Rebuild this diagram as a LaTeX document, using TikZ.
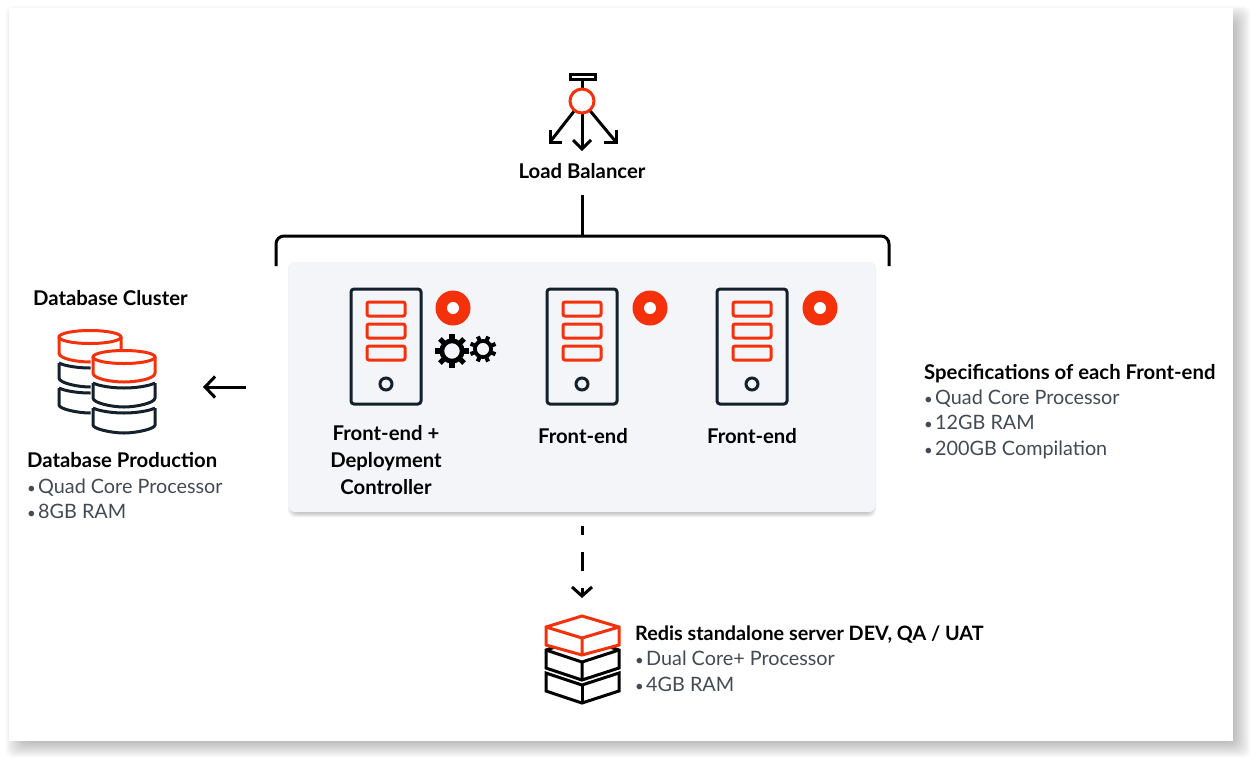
\documentclass[tikz,border=0pt]{standalone}
\usepackage{fontspec}
\setmainfont{Lato}
\usetikzlibrary{arrows.meta,positioning,calc}
\definecolor{ink}{HTML}{14202B}
\definecolor{brand}{HTML}{F5310B}
\definecolor{greytext}{HTML}{434A54}
\definecolor{panelbg}{HTML}{F3F5F9}
\tikzset{
  server/.pic={
    \draw[ink,line width=3pt,rounded corners=3pt] (-35,-57) rectangle (35,58);
    \foreach \y in {-44,-22,0}{
      \draw[brand,line width=3pt,rounded corners=2pt] (-19,\y) rectangle (19,\y+14);
    }
    \draw[ink,line width=3pt] (0,38) circle (6);
  },
  reddot/.pic={
    \fill[brand] (0,0) circle (17.5);
    \fill[white] (0,0) circle (6);
  },
  pics/gear/.style={code={
    \draw[black,line width=0.28*#1pt] (0,0) circle (0.6*#1);
    \foreach \a in {0,45,...,315}{
      \draw[black,line width=0.3*#1pt] (\a:0.7*#1) -- (\a:#1);
    }
  }},
  dbstack/.pic={
    % white halo over whatever stands behind
    \draw[white,line width=5pt,fill=white] (-31,0) -- (-31,68)
      .. controls (-31,72) and (-12,76) .. (0,76) .. controls (12,76) and (31,72) .. (31,68) -- (31,0) -- cycle;
    % black drums
    \draw[ink,line width=3pt] (-31,26) -- (-31,41)
      .. controls (-31,46) and (-12,50) .. (0,50) .. controls (12,50) and (31,46) .. (31,41) -- (31,26);
    \draw[ink,line width=3pt] (-31,26) .. controls (-25,29) and (-12,31) .. (0,31)
      .. controls (12,31) and (25,29) .. (31,26);
    \draw[ink,line width=3pt] (-31,51) -- (-31,68)
      .. controls (-31,72) and (-12,76) .. (0,76) .. controls (12,76) and (31,72) .. (31,68) -- (31,51);
    \draw[ink,line width=3pt] (-31,51) .. controls (-25,54) and (-12,56) .. (0,56)
      .. controls (12,56) and (25,54) .. (31,51);
    % red drum
    \draw[brand,line width=3pt,fill=white] (-31,0) -- (-31,16)
      .. controls (-31,22) and (-12,25) .. (0,25) .. controls (12,25) and (31,22) .. (31,16) -- (31,0);
    \draw[brand,line width=3pt,fill=white] (0,0) circle [x radius=31,y radius=6.5];
  },
  /tikz/boldlabel/.style={font=\fontsize{20.3}{27}\selectfont\bfseries,text=black,inner sep=0pt},
  /tikz/listitem/.style={font=\fontsize{19.8}{27}\selectfont,text=greytext,inner sep=0pt,anchor=base west}
}
\newcommand{\itembullet}{\makebox[11pt][l]{\fontsize{15}{15}\selectfont\textbullet}}
\begin{document}
\begin{tikzpicture}[x=1pt,y=-1pt,
  panel/.style={fill=panelbg,rounded corners=6pt,minimum width=586pt,minimum height=250pt,inner sep=0pt},
  wire/.style={black,line width=3pt},
  barb/.style={wire,-{Straight Barb[length=9pt,width=20pt,line width=3pt]}},
  box/.style={black,line width=3pt,line join=miter},
  redbox/.style={brand,line width=3pt,line join=miter,fill=white}
]
  \useasboundingbox (0,0) rectangle (1256,764);

  % Card with soft shadow
  \foreach \s in {0,...,9}{
    \fill[black,opacity=0.032,rounded corners=8pt]
      (24-2*\s,24-2*\s) rectangle (1233+1.9*\s,741+1.8*\s);
  }
  \fill[white] (9,8) rectangle (1233,741);

  % Panel behind the front-ends
  \foreach \s in {0,...,4}{
    \fill[black,opacity=0.05,rounded corners=7pt]
      (292-\s,266-\s) rectangle (872+\s,513+\s);
  }
  \node[panel] (panel) at (582,387) {};

  % Load balancer icon
  \draw[box,fill=white] (570,74.5) rectangle (595,79);
  \coordinate (lbtop) at (582,79);
  \coordinate (lbhub) at (582,101);
  \coordinate (lbleft) at (550,142);
  \coordinate (lbdown) at (582,149);
  \coordinate (lbright) at (616,142);
  \draw[wire] (lbtop) -- (lbhub);
  \draw[wire] (lbhub) -- (lbdown);
  \draw[wire] (lbhub) -- (lbleft);
  \draw[wire] (lbhub) -- (lbright);
  \draw[wire] (573,140) -- (lbdown) -- (591,140);
  \draw[wire] (550,130) -- (lbleft) -- (562,142);
  \draw[wire] (616,130) -- (lbright) -- (604,142);
  \node[draw=brand,fill=white,line width=3pt,circle,minimum size=24pt,inner sep=0pt] (lbcircle) at (lbhub) {};
  \node[boldlabel,anchor=base] (lbtext) at (582,178) {Load Balancer};

  % Bracket over the panel
  \coordinate (stemtop) at (582,195);
  \coordinate (stembot) at (582,236);
  \coordinate (brleft) at (276,266);
  \coordinate (brright) at (889,266);
  \draw[wire] (stemtop) -- (stembot);
  \draw[wire,rounded corners=8pt] (brleft) |- (stembot) -| (brright);

  % Front-ends
  \pic (srvA) at (386,346) {server};
  \pic (srvB) at (582,346) {server};
  \pic (srvC) at (752,346) {server};
  \pic (dotA) at (453,308) {reddot};
  \pic (dotB) at (650,308) {reddot};
  \pic (dotC) at (820,308) {reddot};
  \pic (gearA) at (452,351) {gear={17}};
  \pic[rotate=22] (gearB) at (483,349) {gear={13.5}};
  \node[boldlabel,align=center,anchor=base] (ctrl) at (386,494) {Front-end +\\Deployment\\Controller};
  \node[boldlabel,anchor=base] (feB) at (583,443) {Front-end};
  \node[boldlabel,anchor=base] (feC) at (752,443) {Front-end};

  % Spec list on the right
  \node[boldlabel,anchor=base west] (spec) at (924,379) {Specifications of each Front-end};
  \node[listitem] (specA) at (924,404) {\itembullet Quad Core Processor};
  \node[listitem] (specB) at (924,429) {\itembullet 12GB RAM};
  \node[listitem] (specC) at (924,455) {\itembullet 200GB Compilation};

  % Database side
  \node[boldlabel,anchor=base west] (dbtitle) at (33,305) {Database Cluster};
  \pic (dbback) at (90,337) {dbstack};
  \pic (dbfront) at (124,357) {dbstack};
  \coordinate (dbfrom) at (246,387);
  \coordinate (dbto) at (203,387);
  \draw[wire,-{Straight Barb[length=10pt,width=21pt,line width=3pt]}] (dbfrom) -- (dbto);
  \node[boldlabel,anchor=base west] (dbprod) at (27,467) {Database Production};
  \node[listitem] (dbA) at (27,493) {\itembullet Quad Core Processor};
  \node[listitem] (dbB) at (27,518) {\itembullet 8GB RAM};

  % Dashed link down to redis
  \coordinate (dashfrom) at (582,526);
  \coordinate (dashto) at (582,598);
  \draw[barb,dash pattern=on 19pt off 17pt,dash phase=10pt] (dashfrom) -- (dashto);

  % Redis stack
  \draw[box] (546,673) -- (546,691) -- (582,703) -- (619,691) -- (619,673) -- (582,685) -- cycle;
  \draw[box] (582,685) -- (582,703);
  \draw[box,fill=white] (546,650) -- (546,668) -- (582,680) -- (619,668) -- (619,650) -- (582,638) -- cycle;
  \draw[box] (546,650) -- (582,662) -- (619,650) (582,662) -- (582,680);
  \draw[redbox] (546,627) -- (546,645) -- (582,655) -- (619,645) -- (619,627) -- (582,616) -- cycle;
  \draw[brand,line width=3pt] (546,627) -- (582,638) -- (619,627) (582,638) -- (582,655);
  \node[boldlabel,anchor=base west,font=\fontsize{19.8}{27}\selectfont\bfseries] (redis) at (635,640) {Redis standalone server DEV, QA / UAT};
  \node[listitem] (redisA) at (635,665) {\itembullet Dual Core+ Processor};
  \node[listitem] (redisB) at (635,691) {\itembullet 4GB RAM};
\end{tikzpicture}
\end{document}
